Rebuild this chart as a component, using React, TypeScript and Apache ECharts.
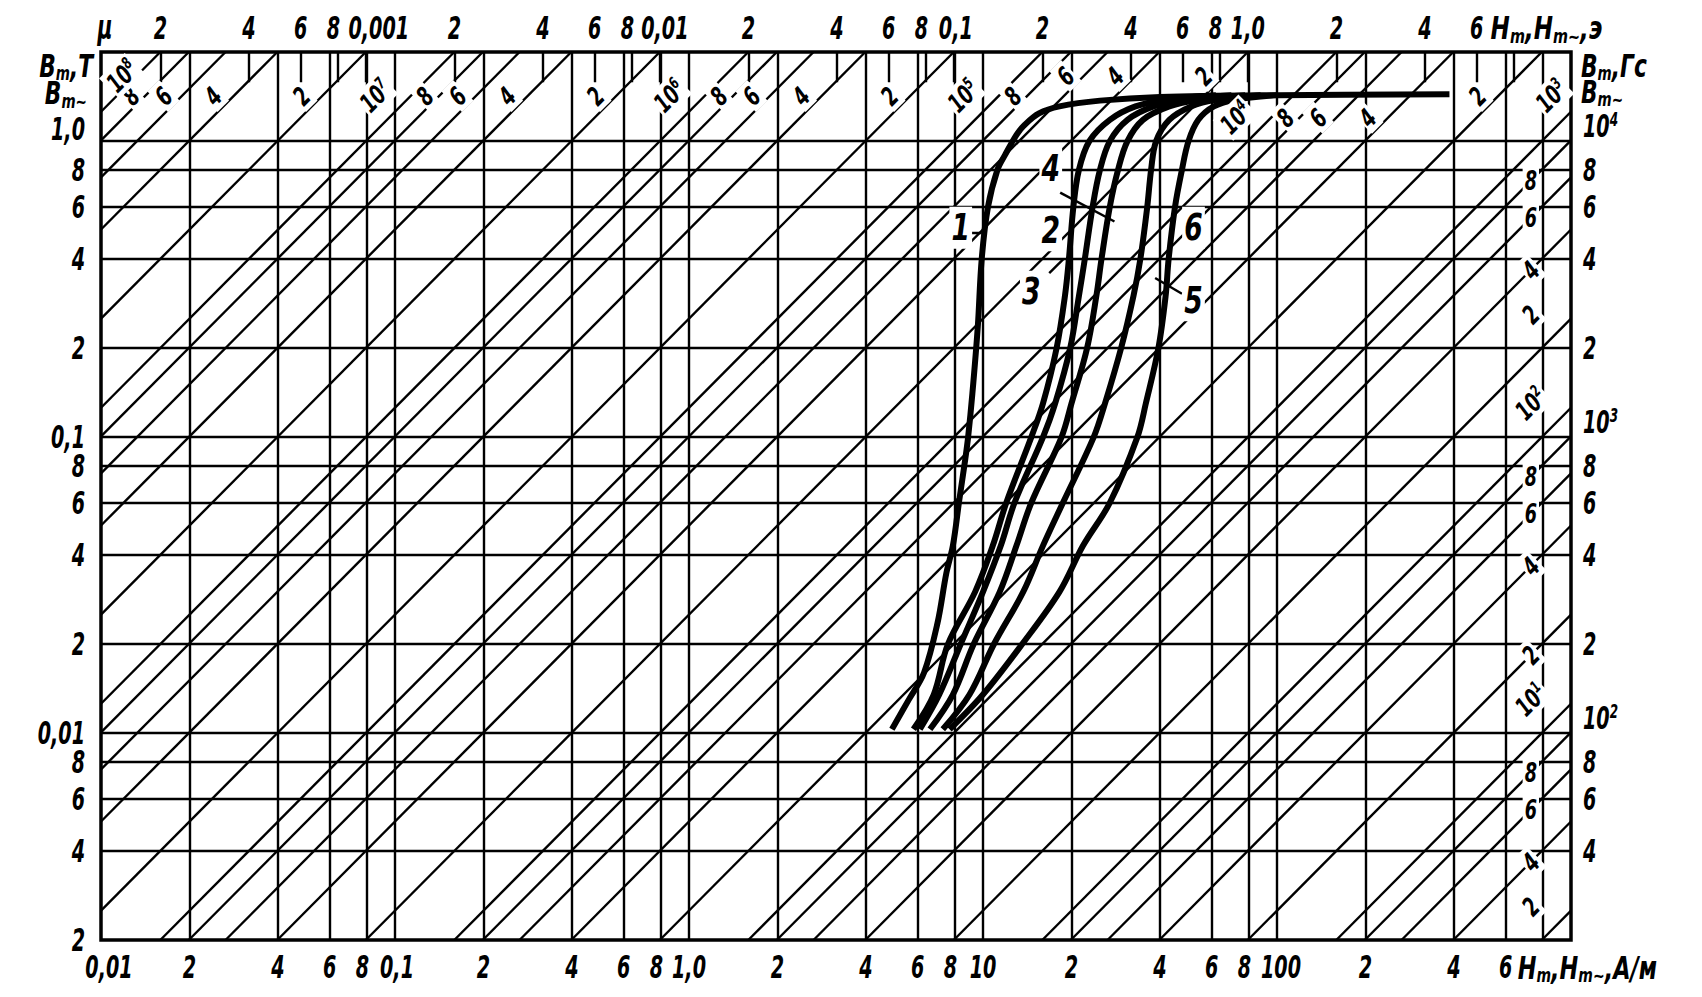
import React, { useEffect, useRef } from "react";
import * as echarts from "echarts";

// ---- axis ranges (A/m and T) ----
const H_MIN = 0.01;
const H_MAX = 1000;
const B_MIN = 0.002;
const B_MAX = 2;
const MU0 = 4 * Math.PI * 1e-7;
const OE_TO_AM = 1000 / (4 * Math.PI);

// ---- grid lines ----
const hGridLines = [0.02, 0.04, 0.06, 0.08, 0.1, 0.2, 0.4, 0.6, 0.8, 1, 2, 4, 6, 8, 10, 20, 40, 60, 80, 100, 200, 400, 600, 800];
const bGridLines = [0.004, 0.006, 0.008, 0.01, 0.02, 0.04, 0.06, 0.08, 0.1, 0.2, 0.4, 0.6, 0.8, 1];
const muLines = [2, 4, 6, 8, 10, 20, 40, 60, 80, 100, 200, 400, 600, 800, 1e3, 2e3, 4e3, 6e3, 8e3, 1e4, 2e4, 4e4, 6e4, 8e4, 1e5, 2e5, 4e5, 6e5, 8e5, 1e6, 2e6, 4e6, 6e6, 8e6, 1e7, 2e7, 4e7, 6e7, 8e7, 1e8];
const oeTickValues = [2e-4, 4e-4, 6e-4, 8e-4, 1e-3, 2e-3, 4e-3, 6e-3, 8e-3, 1e-2, 2e-2, 4e-2, 6e-2, 8e-2, 0.1, 0.2, 0.4, 0.6, 0.8, 1, 2, 4, 6, 8];

// ---- tick labels ----
const bottomTicks: [number, string][] = [
  [0.01, "0,01"], [0.02, "2"], [0.04, "4"], [0.06, "6"], [0.08, "8"],
  [0.1, "0,1"], [0.2, "2"], [0.4, "4"], [0.6, "6"], [0.8, "8"],
  [1, "1,0"], [2, "2"], [4, "4"], [6, "6"], [8, "8"],
  [10, "10"], [20, "2"], [40, "4"], [60, "6"], [80, "8"],
  [100, "100"], [200, "2"], [400, "4"], [600, "6"],
];
const leftTicks: [number, string][] = [
  [1, "1,0"], [0.8, "8"], [0.6, "6"], [0.4, "4"], [0.2, "2"],
  [0.1, "0,1"], [0.08, "8"], [0.06, "6"], [0.04, "4"], [0.02, "2"],
  [0.01, "0,01"], [0.008, "8"], [0.006, "6"], [0.004, "4"], [0.002, "2"],
];
const rightTicks: [number, string][] = [
  [1, "{t|10}{p|4}"], [0.8, "{t|8}"], [0.6, "{t|6}"], [0.4, "{t|4}"], [0.2, "{t|2}"],
  [0.1, "{t|10}{p|3}"], [0.08, "{t|8}"], [0.06, "{t|6}"], [0.04, "{t|4}"], [0.02, "{t|2}"],
  [0.01, "{t|10}{p|2}"], [0.008, "{t|8}"], [0.006, "{t|6}"], [0.004, "{t|4}"],
];
const topTicksOe: [number, string][] = [
  [2e-4, "2"], [4e-4, "4"], [6e-4, "6"], [8e-4, "8"], [1e-3, "0,001"],
  [2e-3, "2"], [4e-3, "4"], [6e-3, "6"], [8e-3, "8"], [1e-2, "0,01"],
  [2e-2, "2"], [4e-2, "4"], [6e-2, "6"], [8e-2, "8"], [0.1, "0,1"],
  [0.2, "2"], [0.4, "4"], [0.6, "6"], [0.8, "8"], [1, "1,0"],
  [2, "2"], [4, "4"], [6, "6"],
];

// ---- magnetization curves [H (A/m), B (T)] ----
const curve1: [number, number][] = [
  [4.9, 0.0103], [5.6, 0.013], [6.3, 0.016], [7.0, 0.0235], [7.5, 0.0346], [7.9, 0.043],
  [8.3, 0.061], [8.7, 0.084], [8.9, 0.1], [9.2, 0.14], [9.6, 0.236], [9.9, 0.4],
  [10.4, 0.6], [11.2, 0.8], [11.9, 0.9], [13.0, 1.05], [13.8, 1.13], [15.5, 1.24],
  [18.2, 1.31], [25, 1.37], [40, 1.41], [100, 1.43], [386, 1.44],
];
const groupB = [0.0103, 0.0135, 0.02, 0.03, 0.043, 0.06, 0.1, 0.13, 0.2, 0.3, 0.4, 0.6, 0.8, 1.0, 1.18, 1.31, 1.38, 1.43];
const curve2H = [5.8, 6.8, 7.6, 9.4, 10.8, 12.0, 14.6, 16.0, 17.8, 19.0, 19.6, 20.3, 21.2, 23.0, 27, 33, 42, 62];
const curve3H = [6.1, 7.1, 8.4, 10.0, 11.5, 12.8, 16.0, 17.6, 19.8, 21.2, 22.2, 23.6, 25.0, 27.0, 31, 38, 48, 70];
const curve4H = [6.6, 7.9, 9.3, 11.4, 13.0, 14.6, 18.5, 20.0, 22.6, 24.3, 25.3, 27.0, 28.8, 31.0, 35, 43, 54, 78];
const curve6H = [7.3, 9.0, 10.9, 13.7, 16.0, 18.7, 23.8, 26.0, 29.5, 32.5, 34.3, 36.2, 37.3, 38.8, 43, 51, 62, 88];
const curve5H = [7.7, 10.0, 13.6, 18.2, 21.9, 27.0, 33.5, 35.8, 39.5, 41.8, 42.8, 45.0, 47.5, 50.0, 54, 61, 72, 100];

const curveLabels: [string, number, number][] = [
  ["1", 8.4, 0.51], ["4", 17, 0.81], ["2", 17, 0.5], ["3", 14.6, 0.31], ["6", 52, 0.51], ["5", 52, 0.29],
];
const leaders: [number, number][][] = [
  [[9.0, 0.49], [9.9, 0.49]],
  [[18.3, 0.67], [28, 0.535]],
  [[16.8, 0.358], [18.8, 0.4]],
  [[38.5, 0.345], [47.5, 0.305]],
];

const FONT = "'DejaVu Sans', sans-serif";
const SX = 0.6;

function richSet(size: number) {
  const base = { fill: "#000", fontFamily: FONT, fontStyle: "italic", fontWeight: "bold" };
  const small = Math.round(size * 0.62);
  return {
    t: { ...base, fontSize: size, lineHeight: Math.round(size * 1.1) },
    p: { ...base, fontSize: small, lineHeight: small + 2, verticalAlign: "top" },
    s: { ...base, fontSize: small, lineHeight: small + 2, verticalAlign: "bottom" },
  };
}

type Spec = {
  H: number; B: number; text: string; size: number;
  align?: string; va?: string; dx?: number; dy?: number; rot?: number; bg?: boolean; sx?: number;
};

// small horizontal nudges for crowded tick texts
const nudge: Record<string, number> = { "0,001": 13, "0,01": 5, "100": 4, "8": -4, "0,1": 2 };

function mantissa(mu: number) {
  const k = Math.floor(Math.log10(mu) + 1e-9);
  const m = Math.round(mu / Math.pow(10, k));
  return { k, m };
}

function clipMuLine(mu: number): [number, number][] | null {
  const c = MU0 * mu;
  const h0 = Math.max(H_MIN, B_MIN / c);
  const h1 = Math.min(H_MAX, B_MAX / c);
  if (h0 >= h1) return null;
  return [[h0, c * h0], [h1, c * h1]];
}

function buildOption() {
  const segs: [number, number][][] = [];
  hGridLines.forEach((h) => segs.push([[h, B_MIN], [h, B_MAX]]));
  bGridLines.forEach((b) => segs.push([[H_MIN, b], [H_MAX, b]]));
  muLines.forEach((mu) => {
    const s = clipMuLine(mu);
    if (s) segs.push(s);
  });
  oeTickValues.forEach((v) => {
    const h = v * OE_TO_AM;
    if (h > H_MIN && h < H_MAX) segs.push([[h, B_MAX], [h, 1.58]]);
  });
  leaders.forEach((l) => segs.push(l));

  const specs: Spec[] = [];
  const AX = 32;
  // bottom
  bottomTicks.forEach(([v, t], i) =>
    specs.push({ H: v, B: B_MIN, text: `{t|${t}}`, size: AX, va: "top", dy: 10, dx: i === 0 ? 8 : nudge[t] || 0 })
  );
  specs.push({ H: 600, B: B_MIN, text: "{t|H}{s|m}{t|,H}{s|m~}{t|,A/м}", size: AX, align: "left", va: "top", dy: 10, dx: 12, sx: 0.7 });
  // left
  leftTicks.forEach(([v, t]) => specs.push({ H: H_MIN, B: v === 1 ? 1.1 : v, text: `{t|${t}}`, size: AX, align: "right", dx: -16 }));
  specs.push({ H: H_MIN, B: 1.8, text: "{t|B}{s|m}{t|,T}", size: 32, align: "right", dx: -8, sx: 0.68 });
  specs.push({ H: H_MIN, B: 1.45, text: "{t|B}{s|m~}", size: 32, align: "right", dx: -14, sx: 0.68 });
  // right
  rightTicks.forEach(([v, t]) => {
    const isPow = t.indexOf("{p|") >= 0;
    specs.push({ H: H_MAX, B: isPow ? v * 1.12 : v, text: t, size: AX, align: "left", dx: 12 });
  });
  specs.push({ H: H_MAX, B: 1.8, text: "{t|B}{s|m}{t|,Гс}", size: 32, align: "left", dx: 10, sx: 0.68 });
  specs.push({ H: H_MAX, B: 1.47, text: "{t|B}{s|m~}", size: 32, align: "left", dx: 10, sx: 0.68 });
  // top (oersted)
  topTicksOe.forEach(([v, t]) => specs.push({ H: v * OE_TO_AM, B: B_MAX, text: `{t|${t}}`, size: AX, va: "bottom", dy: -6, dx: nudge[t] || 0 }));
  specs.push({ H: 6 * OE_TO_AM, B: B_MAX, text: "{t|H}{s|m}{t|,H}{s|m~}{t|,э}", size: AX, align: "left", va: "bottom", dy: -6, dx: 14, sx: 0.72 });
  specs.push({ H: H_MIN, B: B_MAX, text: "{t|μ}", size: 34, va: "bottom", dy: -6, dx: 4 });

  // permeability line labels
  muLines.forEach((mu, i) => {
    const next = i < muLines.length - 1 ? muLines[i + 1] : mu * 2;
    const { k, m } = mantissa(mu);
    const txt = m === 1 ? `{t|10}{p|${k}}` : `{t|${m}}`;
    const hAt = 1.42 / (MU0 * mu);
    if (hAt <= 1300) {
      let bl = 1.42;
      if (hAt >= 15 && hAt < 65) bl = 1.66;
      else if (hAt >= 65 && hAt < 400) bl = 1.2;
      const shift = m === 1 ? 0.12 : Math.min(Math.log10(next / mu) / 2, 0.07);
      let h = (bl / (MU0 * mu)) * Math.pow(10, -shift);
      if (h < 0.0118) {
        h = 0.0118;
        bl = 1.66;
      }
      specs.push({ H: h, B: bl, text: txt, size: 26, rot: 45, bg: true, sx: 0.68 });
    } else {
      const h = 730;
      let b = MU0 * h * mu;
      if (m === 1 || (m === 2 && k >= 2) || b < B_MIN * 1.2) b = MU0 * h * Math.sqrt(mu * next);
      specs.push({ H: h, B: b, text: txt, size: 26, rot: m === 8 || m === 6 ? 0 : 45, bg: true, sx: 0.68 });
    }
  });

  // curve numbers
  curveLabels.forEach(([t, h, b]) => specs.push({ H: h, B: b, text: `{t|${t}}`, size: 38, bg: true, sx: 0.7 }));

  const curveSeries = (name: string, data: [number, number][]) => ({
    type: "line",
    name,
    data,
    smooth: 0.35,
    symbol: "none",
    lineStyle: { color: "#000", width: 6 },
    z: 3,
    silent: true,
  });
  const zipGroup = (hs: number[]) => hs.map((h, i) => [h, groupB[i]] as [number, number]);

  const axisCommon = {
    axisLine: { show: false },
    axisTick: { show: false },
    axisLabel: { show: false },
    splitLine: { show: false },
  };

  return {
    animation: false,
    backgroundColor: "#fff",
    grid: {
      left: 101,
      top: 52,
      width: 1470,
      height: 888,
      show: true,
      borderColor: "#000",
      borderWidth: 3.5,
      backgroundColor: "transparent",
    },
    xAxis: { type: "log", logBase: 10, min: H_MIN, max: H_MAX, ...axisCommon },
    yAxis: { type: "log", logBase: 10, min: B_MIN, max: B_MAX, ...axisCommon },
    series: [
      {
        type: "lines",
        coordinateSystem: "cartesian2d",
        data: segs.map((s) => ({ coords: s })),
        lineStyle: { color: "#000", width: 2.4, opacity: 1 },
        silent: true,
        z: 2,
      },
      curveSeries("1", curve1),
      curveSeries("2", zipGroup(curve2H)),
      curveSeries("3", zipGroup(curve3H)),
      curveSeries("4", zipGroup(curve4H)),
      curveSeries("6", zipGroup(curve6H)),
      curveSeries("5", zipGroup(curve5H)),
      {
        type: "custom",
        coordinateSystem: "cartesian2d",
        data: specs.map((s) => [s.H, s.B]),
        encode: { x: 0, y: 1 },
        clip: false,
        silent: true,
        z: 6,
        renderItem: (params: any, api: any) => {
          const s = specs[params.dataIndex];
          const p = api.coord([api.value(0), api.value(1)]);
          return {
            type: "text",
            x: p[0] + (s.dx || 0),
            y: p[1] + (s.dy || 0),
            rotation: ((s.rot || 0) * Math.PI) / 180,
            scaleX: s.sx ?? SX,
            z2: 10,
            style: {
              text: s.text,
              fill: "#000",
              fontFamily: FONT,
              fontSize: s.size,
              fontStyle: "italic",
              fontWeight: "bold",
              align: s.align || "center",
              verticalAlign: s.va || "middle",
              backgroundColor: s.bg ? "#fff" : undefined,
              padding: s.bg ? [0, 3] : 0,
              rich: richSet(s.size),
            },
          };
        },
      },
    ],
  };
}

export default function App() {
  const ref = useRef<HTMLDivElement>(null);
  useEffect(() => {
    if (!ref.current) return;
    const chart = echarts.init(ref.current, null, { renderer: "svg" });
    chart.setOption(buildOption() as any);
    return () => chart.dispose();
  }, []);
  return <div ref={ref} style={{ position: "absolute", left: 0, top: 0, width: 1702, height: 997, background: "#fff" }} />;
}
